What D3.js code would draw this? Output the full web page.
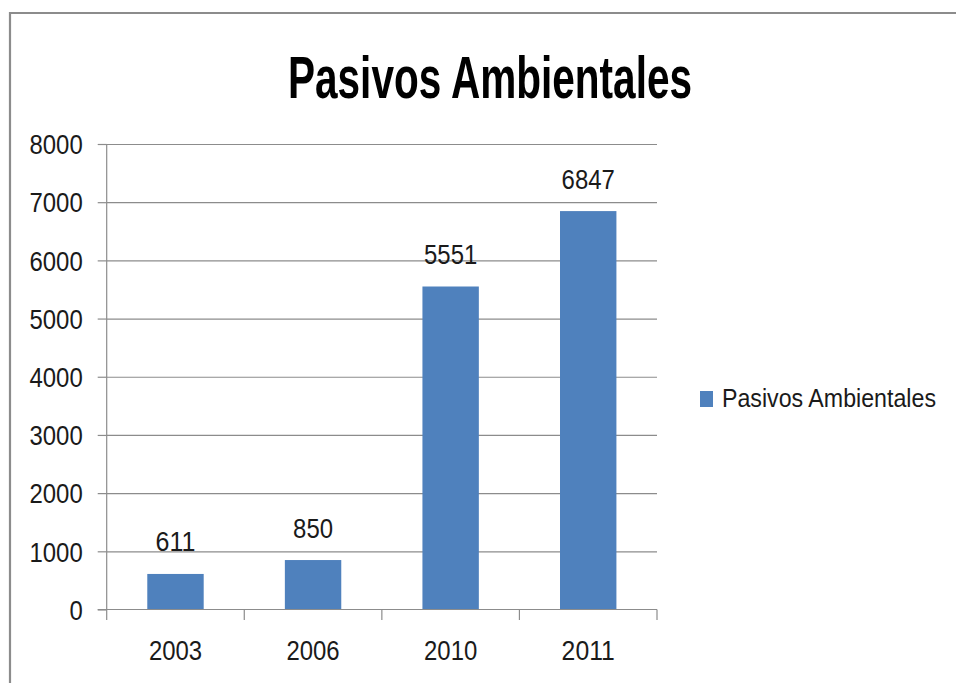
<!DOCTYPE html>
<html>
<head>
<meta charset="utf-8">
<script src="https://cdn.jsdelivr.net/npm/d3@7"></script>
<style>
  html, body { margin: 0; padding: 0; background: #fff; }
  svg { display: block; }
  text { font-family: "Liberation Sans Narrow", "Liberation Sans", Arial, sans-serif; fill: #1a1a1a; }
</style>
</head>
<body>
<svg id="chart" width="956" height="683"></svg>
<script>
const chartTitle = "Pasivos Ambientales";
const seriesName = "Pasivos Ambientales";
const categories = ["2003", "2006", "2010", "2011"];
const values = [611, 850, 5551, 6847];
const yTicks = [0, 1000, 2000, 3000, 4000, 5000, 6000, 7000, 8000];

const svg = d3.select("#chart");
const W = 956, H = 683;
const plot = { left: 106.7, right: 657, top: 144, bottom: 609.5 };
const charW = 13.3;      // width of one digit in the reference
const gray = "#8c8c8c";

svg.append("rect").attr("width", W).attr("height", H).attr("fill", "#fff");

// outer frame (only top and left edges are visible)
svg.append("path")
  .attr("d", `M10,${H}V13H${W}`)
  .attr("fill", "none").attr("stroke", gray).attr("stroke-width", 2.2);

// title
svg.append("text")
  .attr("x", 490).attr("y", 98)
  .attr("text-anchor", "middle")
  .attr("font-size", 60).attr("font-weight", "bold")
  .attr("textLength", 404).attr("lengthAdjust", "spacingAndGlyphs")
  .style("fill", "#000")
  .text(chartTitle);

const y = d3.scaleLinear().domain([0, 8000]).range([plot.bottom, plot.top]);
const x = d3.scaleBand().domain(categories).range([plot.left, plot.right])
  .paddingInner(0.59).paddingOuter(0.295);

// gridlines
svg.append("g")
  .attr("transform", `translate(${plot.left},0)`)
  .call(d3.axisLeft(y).tickValues(yTicks.filter(d => d > 0)).tickSize(-(plot.right - plot.left)).tickFormat(""))
  .call(g => g.select(".domain").remove())
  .call(g => g.selectAll("line").attr("stroke", gray).attr("stroke-width", 1.2));

// y axis
const yAxis = svg.append("g")
  .attr("transform", `translate(${plot.left},0)`)
  .call(d3.axisLeft(y).tickValues(yTicks).tickSize(9).tickPadding(15).tickFormat(d3.format("d")));
yAxis.select(".domain").attr("stroke", gray).attr("stroke-width", 1.2)
  .attr("d", `M0,${plot.bottom + 0.5}V${plot.top}`);
yAxis.selectAll(".tick line").attr("stroke", gray).attr("stroke-width", 1.2);
yAxis.selectAll(".tick text")
  .attr("font-size", 27).attr("dy", "0.36em")
  .attr("textLength", d => String(d).length * charW).attr("lengthAdjust", "spacingAndGlyphs")
  .style("fill", "#1a1a1a");

// bars
svg.append("g").selectAll("rect")
  .data(values)
  .join("rect")
  .attr("x", (d, i) => x(categories[i]))
  .attr("y", d => y(d))
  .attr("width", x.bandwidth())
  .attr("height", d => y(0) - y(d))
  .attr("fill", "#4f81bd");

// x axis baseline + boundary ticks
const step = x.step();
const bounds = categories.map(c => x(c) - step * x.paddingInner() / 2).concat([plot.right]);
svg.append("line")
  .attr("x1", plot.left - 9).attr("x2", plot.right)
  .attr("y1", plot.bottom).attr("y2", plot.bottom)
  .attr("stroke", gray).attr("stroke-width", 1.2);
svg.append("g").selectAll("line")
  .data(bounds)
  .join("line")
  .attr("x1", d => d).attr("x2", d => d)
  .attr("y1", plot.bottom).attr("y2", plot.bottom + 10.5)
  .attr("stroke", gray).attr("stroke-width", 1.2);

// x labels
const xAxis = svg.append("g")
  .attr("transform", `translate(0,${plot.bottom})`)
  .call(d3.axisBottom(x).tickSize(0).tickPadding(0));
xAxis.select(".domain").remove();
xAxis.selectAll(".tick text")
  .attr("y", 50.5).attr("dy", 0)
  .attr("font-size", 27)
  .attr("textLength", d => d.length * charW).attr("lengthAdjust", "spacingAndGlyphs")
  .style("fill", "#1a1a1a");

// data labels
svg.append("g").selectAll("text")
  .data(values)
  .join("text")
  .attr("x", (d, i) => x(categories[i]) + x.bandwidth() / 2)
  .attr("y", d => y(d) - 22.5)
  .attr("text-anchor", "middle")
  .attr("font-size", 27)
  .attr("textLength", d => String(d).length * charW).attr("lengthAdjust", "spacingAndGlyphs")
  .text(d => d);

// legend
const lg = svg.append("g");
lg.append("rect")
  .attr("x", 700).attr("y", 391)
  .attr("width", 13).attr("height", 16)
  .attr("fill", "#4f81bd");
lg.append("text")
  .attr("transform", "translate(722,406.5) scale(1,1.1)")
  .attr("font-size", 23.5)
  .attr("textLength", 214).attr("lengthAdjust", "spacingAndGlyphs")
  .text(seriesName);
</script>
</body>
</html>
